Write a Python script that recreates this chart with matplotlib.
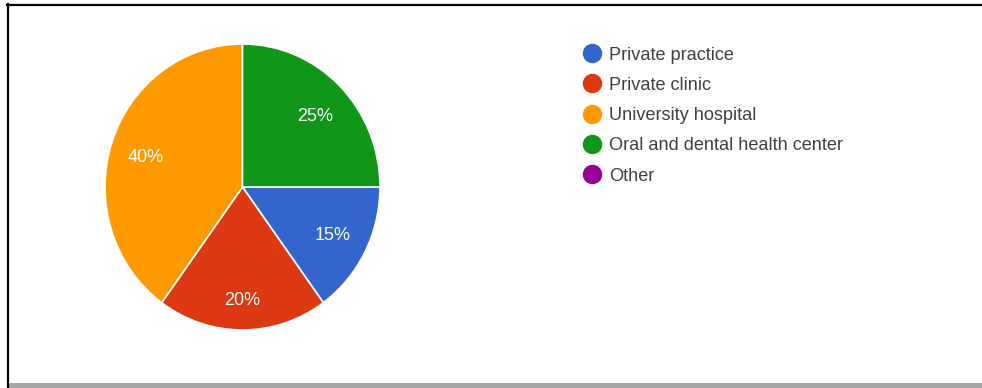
import numpy as np
import matplotlib
matplotlib.use("Agg")
import matplotlib.pyplot as plt
from matplotlib.patches import Rectangle
from matplotlib.lines import Line2D

categories = ["Private practice", "Private clinic", "University hospital",
              "Oral and dental health center", "Other"]
shares = [15, 20, 40, 25, 0]
colors = ["#3366cc", "#dc3912", "#ff9900", "#109618", "#990099"]

W, H = 982, 388
fig = plt.figure(figsize=(W / 100, H / 100), dpi=100)
fig.patch.set_facecolor("white")
plt.rcParams["font.family"] = ["Liberation Sans", "DejaVu Sans"]

# pie area in pixels
px_left, px_top, px_w, px_h = 105, 44, 275, 286
ax = fig.add_axes([px_left / W, 1 - (px_top + px_h) / H, px_w / W, px_h / H])

vals = [v for v in shares if v > 0]
cols = [c for v, c in zip(shares, colors) if v > 0]
wedges, _ = ax.pie(vals, colors=cols, startangle=0, counterclock=False,
                   radius=1, frame=True,
                   wedgeprops=dict(edgecolor="white", linewidth=1.2))
ax.set_aspect("auto")
ax.set_xlim(-1, 1)
ax.set_ylim(-1, 1)
ax.axis("off")

# percentage labels: the outermost corner of each label box sits a fixed
# distance inside the rim
sx, sy = px_w / 2, px_h / 2
R = (sx + sy) / 2
margin = 19
hw, hh = 18, 8
total = sum(vals)
for w, v in zip(wedges, vals):
    th = np.deg2rad((w.theta1 + w.theta2) / 2)
    c, s = np.cos(th), np.sin(th)
    wp, hp = hw * np.sign(c), hh * np.sign(s)
    b = c * wp + s * hp
    d = -b + np.sqrt(b * b - (wp * wp + hp * hp) + (R - margin) ** 2)
    ax.text(d * c / sx, (d * s - 2) / sy, f"{round(100 * v / total)}%",
            color="white", fontsize=13, ha="center", va="center")

# legend
leg_x, leg_y0, leg_step = 592, 53, 30.3
for i, (name, col) in enumerate(zip(categories, colors)):
    y = 1 - (leg_y0 + i * leg_step) / H
    fig.add_artist(Line2D([leg_x / W], [y], marker="o", markersize=13,
                          markerfacecolor=col, markeredgecolor=col,
                          linestyle="none", transform=fig.transFigure))
    fig.text(609 / W, y, name, fontsize=13.1, color="#404040",
             ha="left", va="center_baseline")

# frame
fig.add_artist(Line2D([7.5 / W, 7.5 / W], [1 - 4 / H, 0], color="black",
                      linewidth=1.6, transform=fig.transFigure))
fig.add_artist(Line2D([7 / W, 1], [1 - 4.5 / H, 1 - 4.5 / H], color="black",
                      linewidth=1.6, transform=fig.transFigure))
fig.add_artist(Rectangle((9 / W, 0), 1, 5 / H, facecolor="#a6a6a6",
                         edgecolor="none", transform=fig.transFigure))

fig.savefig("out.png", dpi=100, facecolor="white")
